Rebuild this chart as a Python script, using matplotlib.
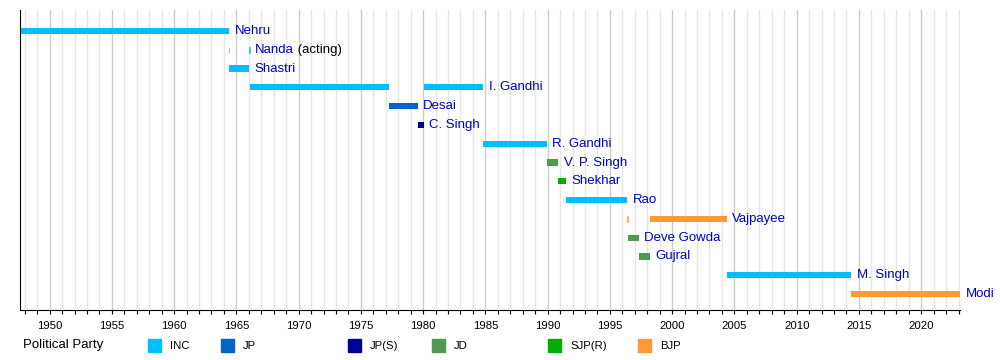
import matplotlib
matplotlib.use("Agg")
import matplotlib.pyplot as plt
from matplotlib.patches import Rectangle
from matplotlib.ticker import MultipleLocator

# ---- data ----
names = ["Nehru", "Nanda", "Shastri", "I. Gandhi", "Desai", "C. Singh", "R. Gandhi",
         "V. P. Singh", "Shekhar", "Rao", "Vajpayee", "Deve Gowda", "Gujral", "M. Singh", "Modi"]
# terms (start, end) in decimal years, per row
terms = [
    [(1947.62, 1964.40)],
    [(1964.40, 1964.44), (1966.03, 1966.07)],
    [(1964.44, 1966.03)],
    [(1966.07, 1977.23), (1980.04, 1984.83)],
    [(1977.23, 1979.57)],
    [(1979.57, 1980.04)],
    [(1984.83, 1989.92)],
    [(1989.92, 1990.86)],
    [(1990.86, 1991.47)],
    [(1991.47, 1996.37)],
    [(1996.37, 1996.42), (1998.21, 2004.39)],
    [(1996.42, 1997.30)],
    [(1997.30, 1998.21)],
    [(2004.39, 2014.40)],
    [(2014.40, 2023.12)],
]
parties = ["INC", "INC", "INC", "INC", "JP", "JP(S)", "INC", "JD", "SJP(R)", "INC",
           "BJP", "JD", "JD", "INC", "BJP"]
suffix = {"Nanda": " (acting)"}

party_names = ["INC", "JP", "JP(S)", "JD", "SJP(R)", "BJP"]
party_colors = {"INC": "#00BFFF", "JP": "#0066CC", "JP(S)": "#000099",
                "JD": "#4E9A4E", "SJP(R)": "#00B000", "BJP": "#FF9933"}

x_start, x_end = 1947.62, 2023.12

# ---- figure ----
fig = plt.figure(figsize=(10, 3.6), dpi=100)
ax = fig.add_axes([0.02, 1 - 310 / 360, 0.94, 300 / 360])

font = ["Liberation Sans", "DejaVu Sans"]
narrow = ["Liberation Sans Narrow", "Liberation Sans", "DejaVu Sans"]

ax.set_xlim(x_start, x_end)
ax.set_ylim(14.85, -1.118)

# grid
for yr in range(1948, 2024):
    if yr % 5 == 0:
        ax.axvline(yr, color="#CCCCCC", lw=1.0, zorder=0)
    else:
        ax.axvline(yr, color="#E6E6E6", lw=1.0, zorder=0)

for i, (nm, tl, pt) in enumerate(zip(names, terms, parties)):
    for (s, e) in tl:
        thin = (e - s) < 0.1
        ax.barh(i, e - s, left=s, height=0.33, color=party_colors[pt],
                edgecolor=party_colors[pt], lw=0.6 if thin else 0, zorder=2,
                alpha=0.7 if thin else 1)
    end = tl[-1][1]
    t = ax.annotate(nm, xy=(end, i), xytext=(4, 0), textcoords="offset points",
                    va="center", ha="left", color="#0000CC", fontsize=9.5, family=font)
    if nm in suffix:
        ax.annotate(suffix[nm], xy=(1, 0.5), xycoords=t, va="center", ha="left",
                    color="black", fontsize=9.5, family=font)

for s in ["top", "right"]:
    ax.spines[s].set_visible(False)
ax.spines["left"].set_color("black")
ax.spines["bottom"].set_color("black")
ax.set_yticks([])
ax.xaxis.set_major_locator(MultipleLocator(5))
ax.xaxis.set_minor_locator(MultipleLocator(1))
ax.tick_params(axis="x", which="both", direction="out", length=3, width=0.8, color="black",
               labelsize=8.2, pad=5)
for lb in ax.get_xticklabels():
    lb.set_family(narrow)

# legend
fig.text(23 / 1000, 1 - 345 / 360, "Political Party", fontsize=9.5, family=font,
         va="center", ha="left")
leg_x = [148, 221, 348, 432, 548, 638]
for px, pn in zip(leg_x, party_names):
    fig.patches.append(Rectangle((px / 1000, 1 - 351.5 / 360), 13 / 1000, 13 / 360,
                                 transform=fig.transFigure, color=party_colors[pn]))
    fig.text((px + 22) / 1000, 1 - 346 / 360, pn, fontsize=8.2, family=narrow,
             va="center", ha="left")

fig.savefig("out.png", dpi=100)
